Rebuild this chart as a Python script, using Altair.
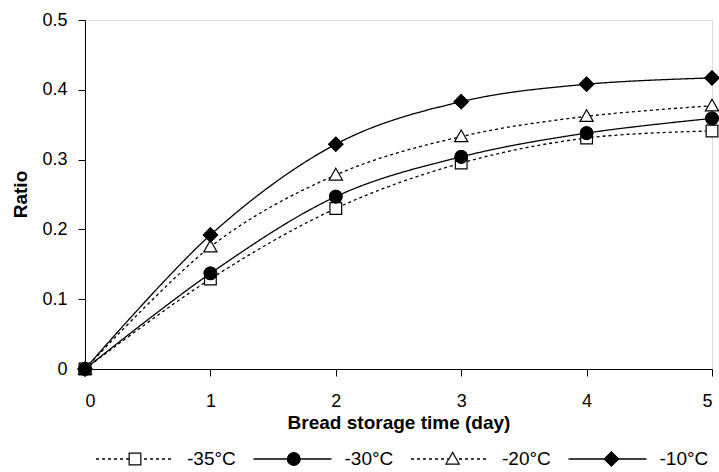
import altair as alt
import pandas as pd

days = [0, 1, 2, 3, 4, 5]
series = ["-35°C", "-30°C", "-20°C", "-10°C"]
r35 = [0.0, 0.129, 0.230, 0.295, 0.331, 0.341]
r30 = [0.0, 0.137, 0.247, 0.304, 0.338, 0.359]
r20 = [0.0, 0.175, 0.278, 0.333, 0.362, 0.377]
r10 = [0.0, 0.192, 0.322, 0.383, 0.408, 0.417]
x_ticks = [0, 1, 2, 3, 4, 5]
y_ticks = [0, 0.1, 0.2, 0.3, 0.4, 0.5]

rows = []
for name, vals in zip(series, [r35, r30, r20, r10]):
    for d, v in zip(days, vals):
        rows.append({"day": d, "ratio": v, "series": name, "label": name, "lab2": name})
df = pd.DataFrame(rows)

FONT = "Liberation Sans"
SYM = 6084  # legend symbol area -> 78px wide line sample
HIDDEN_PAD = 64.8  # column padding of the marker-only legends, matching the labelled one

# zero-length end segments keep every legend symbol exactly as wide as the line sample
EDGE = "M-1,0L-1,0M1,0L1,0"
SQ = EDGE + "M-0.15,-0.15H0.15V0.15H-0.15Z"
CI = EDGE + "M0.16,0A0.16,0.16,0,1,1,-0.16,0A0.16,0.16,0,1,1,0.16,0Z"
TR = EDGE + "M0,-0.17L0.17,0.13L-0.17,0.13Z"
DI = EDGE + "M0,-0.18L0.18,0L0,0.18L-0.18,0Z"
NONE = EDGE

LX, LY = 10, 399


def legend_props(z, hidden, **extra):
    kw = dict(
        orient="none", direction="horizontal", legendX=LX, legendY=LY,
        title=None, symbolSize=SYM,
        labelFont=FONT, labelFontSize=19, labelColor="black",
        labelOffset=12, padding=0, zindex=z,
    )
    if hidden:
        kw.update(labelExpr="''", columnPadding=HIDDEN_PAD)
    else:
        kw.update(columnPadding=14.5)
    kw.update(extra)
    return alt.Legend(**kw)


x_enc = alt.X(
    "day:Q",
    scale=alt.Scale(domain=[0, 5], nice=False),
    axis=alt.Axis(
        values=x_ticks, format="d", title="Bread storage time (day)", grid=False,
        tickSize=7, labelPadding=16, domainColor="black", tickColor="black",
        labelFont=FONT, labelFontSize=18, labelColor="black",
        titleFont=FONT, titleFontSize=19, titleFontWeight="bold", titleColor="black",
        titleY=59, titleBaseline="alphabetic",
    ),
)
y_enc = alt.Y(
    "ratio:Q",
    scale=alt.Scale(domain=[0, 0.5], nice=False),
    axis=alt.Axis(
        values=y_ticks, format="~g", title="Ratio", grid=False,
        tickSize=7, labelPadding=11, domainColor="black", tickColor="black",
        labelFont=FONT, labelFontSize=18, labelColor="black",
        titleFont=FONT, titleFontSize=19, titleFontWeight="bold", titleColor="black",
        titleX=-59, titleY=174, titleBaseline="alphabetic", titleAngle=-90,
    ),
)

lines = alt.Chart(df).mark_line(interpolate="cardinal", color="black", strokeWidth=1.3).encode(
    x=x_enc,
    y=y_enc,
    detail="series:N",
    strokeDash=alt.StrokeDash(
        "series:N",
        sort=series,
        scale=alt.Scale(range=[[3, 3], [1, 0], [3, 3], [1, 0]]),
        legend=legend_props(0, False, symbolType="M-1,0H1", symbolStrokeColor="black",
                            symbolStrokeWidth=1.3),
    ),
)

open_pts = alt.Chart(df).mark_point(
    fill="white", stroke="black", strokeWidth=1.2, opacity=1, size=SYM
).encode(
    x=alt.X("day:Q"),
    y=alt.Y("ratio:Q"),
    shape=alt.Shape(
        "label:N", sort=series, scale=alt.Scale(range=[SQ, CI, TR, DI]),
        legend=legend_props(1, True, symbolStrokeWidth=1.2),
    ),
)

solid_pts = alt.Chart(df).mark_point(
    fill="black", stroke="black", strokeWidth=1.2, opacity=1, size=SYM
).encode(
    x=alt.X("day:Q"),
    y=alt.Y("ratio:Q"),
    shape=alt.Shape(
        "lab2:N", sort=series, scale=alt.Scale(range=[NONE, CI, NONE, DI]),
        legend=legend_props(2, True, symbolStrokeWidth=1.2),
    ),
)

chart = alt.layer(lines, open_pts, solid_pts).resolve_scale(
    shape="independent"
).resolve_legend(
    shape="independent"
).properties(
    width=627, height=349,
    autosize=alt.AutoSizeParams(type="none"),
    padding={"left": 85, "top": 20, "right": 7, "bottom": 103},
).configure_view(
    stroke="#8c8c8c", strokeWidth=1
).configure(
    background="white"
)

chart.save("out.html", embed_options={"renderer": "svg", "actions": False})
